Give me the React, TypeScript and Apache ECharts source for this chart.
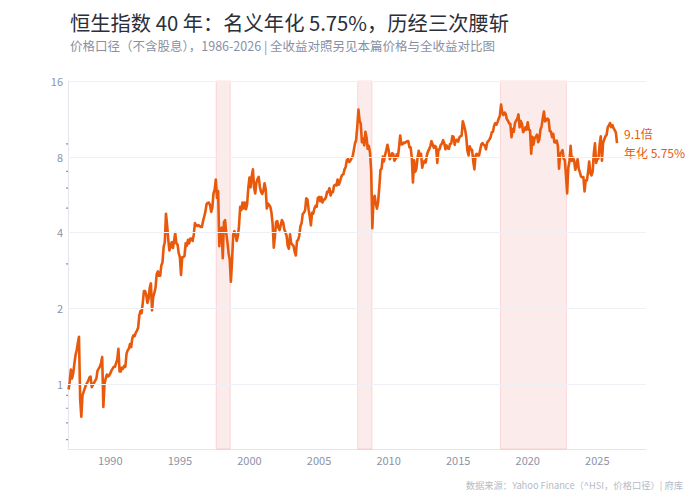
import React, { useEffect, useRef } from "react";
import * as echarts from "echarts";

// ---------- data (multiples of the starting level, month-end readings from Jan 1987) ----------
const startYear = 1987;
const monthlyMultiple: number[] = [
  0.95,
  // 1987
  1.02, 1.14, 1.05, 1.1, 1.2, 1.3, 1.36, 1.45, 1.54, 0.87, 0.74, 0.9,
  // 1988
  0.93, 0.96, 0.99, 1.01, 1.03, 1.06, 1.07, 0.97, 0.99, 1.01, 1.03, 1.05,
  // 1989
  1.13, 1.15, 1.17, 1.21, 1.28, 0.81, 1.0, 1.05, 1.09, 1.07, 1.08, 1.1,
  // 1990
  1.13, 1.15, 1.17, 1.17, 1.21, 1.25, 1.38, 1.12, 1.12, 1.16, 1.15, 1.18,
  // 1991
  1.17, 1.32, 1.36, 1.38, 1.44, 1.4, 1.52, 1.56, 1.55, 1.6, 1.63, 1.67,
  // 1992
  1.87, 1.95, 1.91, 2.1, 2.34, 2.34, 2.26, 2.1, 2.18, 2.41, 2.51, 1.96,
  // 1993
  2.22, 2.3, 2.41, 2.73, 2.8, 2.69, 2.69, 2.96, 3.04, 3.5, 3.66, 4.75,
  // 1994
  4.28, 3.74, 3.39, 3.54, 3.66, 3.47, 3.7, 3.98, 3.62, 3.58, 3.31, 3.19,
  // 1995
  2.71, 3.19, 3.19, 3.23, 3.62, 3.54, 3.74, 3.62, 3.78, 3.78, 3.7, 3.92,
  // 1996
  4.36, 4.28, 4.24, 4.28, 4.24, 4.21, 4.21, 4.44, 4.63, 4.83, 5.18, 5.24,
  // 1997
  5.26, 5.14, 4.83, 5.02, 5.72, 5.92, 6.49, 5.49, 5.84, 3.53, 4.09, 4.18,
  // 1998
  3.16, 4.4, 4.48, 3.97, 3.66, 3.31, 3.12, 2.55, 3.08, 3.93, 4.05, 3.91,
  // 1999
  3.7, 3.86, 4.24, 5.06, 4.91, 5.26, 4.98, 5.26, 4.95, 5.18, 6.0, 6.61,
  // 2000
  6.04, 6.7, 7.13, 6.04, 5.72, 6.31, 6.54, 6.66, 6.07, 5.8, 5.69, 5.88,
  // 2001
  6.27, 5.96, 4.98, 5.22, 5.14, 5.06, 4.79, 4.32, 3.48, 3.89, 4.4, 4.44,
  // 2002
  4.17, 4.09, 4.28, 4.48, 4.4, 4.13, 4.01, 3.89, 3.54, 3.45, 3.93, 3.63,
  // 2003
  3.58, 3.54, 3.35, 3.24, 3.7, 3.74, 3.89, 4.24, 4.36, 4.75, 4.79, 4.9,
  // 2004
  5.47, 5.41, 4.95, 4.63, 4.27, 4.79, 4.75, 4.98, 5.1, 5.06, 5.49, 5.54,
  // 2005
  5.33, 5.53, 5.26, 5.41, 5.41, 5.53, 5.8, 5.8, 6.0, 5.61, 5.8, 5.79,
  // 2006
  6.15, 6.19, 6.15, 6.5, 6.19, 6.35, 6.62, 6.78, 6.81, 7.13, 7.28, 7.77,
  // 2007
  7.83, 7.63, 7.71, 7.9, 8.02, 8.49, 9.03, 9.31, 10.55, 12.32, 11.14, 10.83,
  // 2008
  9.15, 9.46, 8.88, 10.05, 9.54, 8.61, 8.84, 8.29, 7.01, 4.16, 5.41, 5.6,
  // 2009
  5.18, 4.98, 5.3, 6.04, 7.09, 7.17, 8.02, 7.67, 8.14, 8.49, 8.92, 8.52,
  // 2010
  7.83, 8.02, 8.26, 8.22, 7.71, 7.83, 8.18, 7.98, 8.72, 9.72, 8.96, 8.97,
  // 2011
  9.11, 9.07, 9.15, 9.23, 9.23, 8.72, 8.72, 7.98, 6.33, 7.75, 6.97, 7.18,
  // 2012
  7.94, 8.45, 8.02, 8.22, 7.24, 7.55, 7.71, 7.59, 8.1, 8.41, 8.57, 8.82,
  // 2013
  9.23, 8.96, 8.68, 8.84, 8.72, 7.56, 8.53, 8.57, 8.92, 9.03, 9.31, 9.08,
  // 2014
  8.57, 8.88, 8.64, 8.61, 9.0, 9.03, 9.66, 9.62, 8.92, 9.31, 9.35, 9.19,
  // 2015
  9.54, 9.66, 9.7, 11.08, 10.67, 10.24, 9.58, 8.45, 8.1, 8.8, 8.53, 8.53,
  // 2016
  7.67, 7.13, 8.1, 8.22, 8.1, 8.1, 8.53, 8.96, 9.07, 8.92, 8.88, 8.57,
  // 2017
  9.11, 9.23, 9.38, 9.58, 10.01, 10.05, 10.63, 10.89, 10.73, 11.0, 11.36, 11.65,
  // 2018
  12.91, 12.01, 11.72, 12.0, 11.86, 11.28, 11.13, 10.86, 10.82, 9.57, 10.32, 10.06,
  // 2019
  10.88, 11.15, 11.31, 11.79, 10.48, 11.11, 10.82, 10.02, 10.16, 10.48, 10.26, 10.98,
  // 2020
  10.25, 10.18, 8.23, 9.6, 8.94, 9.51, 9.58, 9.8, 9.14, 9.39, 10.26, 10.6,
  // 2021
  11.4, 12.1, 11.05, 11.19, 11.35, 11.23, 10.11, 10.08, 9.57, 9.88, 9.14, 9.11,
  // 2022
  9.27, 8.84, 7.17, 8.21, 8.34, 8.51, 7.85, 7.77, 6.71, 5.72, 7.24, 7.7,
  // 2023
  8.84, 7.7, 7.94, 7.75, 7.1, 7.37, 7.82, 7.16, 6.94, 6.66, 6.64, 6.64,
  // 2024
  5.83, 6.43, 6.44, 6.92, 7.65, 6.9, 6.75, 7.0, 8.23, 9.05, 7.56, 7.81,
  // 2025
  7.88, 8.93, 9.65, 7.72, 9.07, 9.37, 9.65, 9.77, 10.46, 10.66, 10.9, 10.5,
  // 2026
  10.7, 10.4, 10.2, 10.0, 9.07,
];

const drawdownBands: [number, number][] = [
  [1997.61, 1998.62],
  [2007.78, 2008.81],
  [2018.04, 2022.78],
];

const xTicks = [1990, 1995, 2000, 2005, 2010, 2015, 2020, 2025];
const yTicks = [1, 2, 4, 8, 16];
const yMinorTicks = [0.6, 0.7, 0.8, 0.9, 3, 5, 6, 7, 9];

const titleText = "恒生指数 40 年：名义年化 5.75%，历经三次腰斩";
const subtitleText = "价格口径（不含股息），1986-2026 | 全收益对照另见本篇价格与全收益对比图";
const footerText = "数据来源：Yahoo Finance（^HSI，价格口径）| 府库";
const cagrText = "年化 5.75%";

const X_MIN = 1986.96;
const X_MAX = 2028.5;
const Y_MIN = 0.551;
const Y_MAX = 16.01;

const LINE_COLOR = "#e8590c";
const AXIS_TEXT = "#8c93a8";
const FONT = '"Noto Sans CJK SC", "Noto Sans", sans-serif';

export default function App() {
  const ref = useRef<HTMLDivElement>(null);

  useEffect(() => {
    if (!ref.current) return;
    const chart = echarts.init(ref.current, undefined, { renderer: "svg" });
    const lineData = monthlyMultiple.map((v, i) => [startYear + i / 12, v]);
    const last = monthlyMultiple[monthlyMultiple.length - 1];

    chart.setOption({
      animation: false,
      backgroundColor: "#ffffff",
      textStyle: { fontFamily: FONT },
      title: [
        {
          text: titleText,
          left: 70,
          top: 10,
          padding: 0,
          textStyle: { fontSize: 20.3, lineHeight: 24, fontWeight: "normal", color: "#2b2f3a", fontFamily: FONT },
        },
        {
          text: subtitleText,
          left: 70,
          top: 37,
          padding: 0,
          textStyle: { fontSize: 12.5, lineHeight: 16, fontWeight: "normal", color: "#8a90a2", fontFamily: FONT },
        },
        {
          text: footerText,
          right: 11,
          top: 478,
          padding: 0,
          textStyle: { fontSize: 9.3, lineHeight: 14, fontWeight: "normal", color: "#b6bac6", fontFamily: FONT },
        },
      ],
      grid: { left: 68, right: 48, top: 81, bottom: 51, containLabel: false },
      xAxis: {
        type: "value",
        min: X_MIN,
        max: X_MAX,
        axisLine: { show: true, lineStyle: { color: "#e4e6ee", width: 1 } },
        axisTick: { show: false },
        splitLine: { show: false },
        axisLabel: {
          customValues: xTicks,
          formatter: (v: number) => String(Math.round(v)),
          color: AXIS_TEXT,
          fontSize: 11,
          margin: 5,
          fontFamily: FONT,
        },
      },
      yAxis: {
        type: "log",
        logBase: 2,
        min: Y_MIN,
        max: Y_MAX,
        axisLine: { show: true, lineStyle: { color: "#e4e6ee", width: 1 } },
        axisTick: { show: false, customValues: yTicks },
        splitLine: { show: false },
        minorTick: { show: false },
        axisLabel: {
          customValues: yTicks,
          formatter: (v: number) => String(Math.round(v)),
          color: AXIS_TEXT,
          fontSize: 11,
          margin: 5,
          fontFamily: FONT,
        },
      },
      series: [
        {
          name: "helper",
          type: "scatter",
          z: 1,
          silent: true,
          clip: false,
          symbol: "rect",
          symbolSize: [2, 1.2],
          symbolOffset: [-1, 0],
          itemStyle: { color: "#777b88" },
          data: yMinorTicks.map((v) => [X_MIN, v]),
          markLine: {
            silent: true,
            symbol: "none",
            label: { show: false },
            lineStyle: { color: "#eff0f5", width: 1, type: "solid" },
            data: yTicks.map((v) => ({ yAxis: v })),
          },
          markArea: {
            silent: true,
            itemStyle: {
              color: "rgba(232, 90, 90, 0.12)",
              borderColor: "rgba(232, 90, 90, 0.18)",
              borderWidth: 1,
            },
            data: drawdownBands.map(([a, b]) => [{ xAxis: a }, { xAxis: b }]),
          },
        },
        {
          name: "恒生指数",
          type: "line",
          z: 3,
          showSymbol: false,
          symbol: "none",
          data: lineData,
          lineStyle: { color: LINE_COLOR, width: 2.6, join: "round" },
          itemStyle: { color: LINE_COLOR },
          endLabel: {
            show: true,
            distance: 7,
            formatter: () => `${last.toFixed(1)}倍\n${cagrText}`,
            color: LINE_COLOR,
            fontSize: 12,
            lineHeight: 19,
            align: "left",
            fontFamily: FONT,
          },
        },
      ],
    });

    return () => chart.dispose();
  }, []);

  return (
    <div
      ref={ref}
      style={{ position: "fixed", left: 0, top: 0, width: 694, height: 500, background: "#fff" }}
    />
  );
}
